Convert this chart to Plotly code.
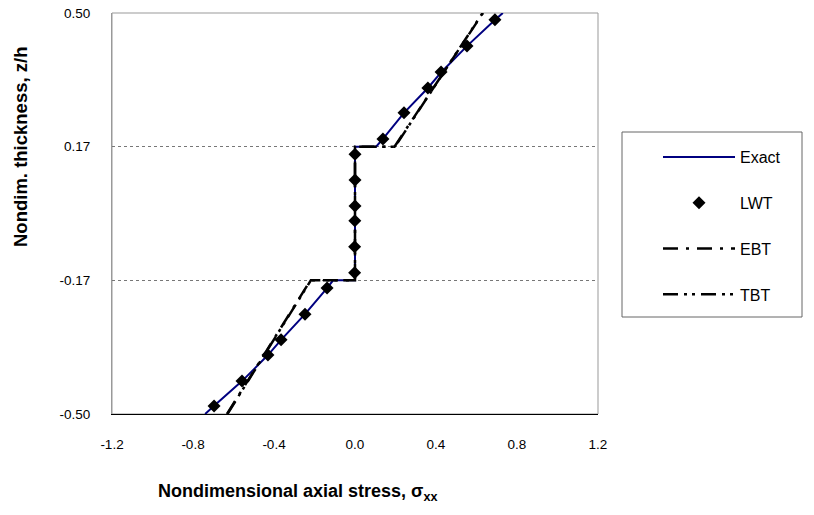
import plotly.graph_objects as go

# ---- data ----
exact_z = [-0.5, -0.48, -0.418, -0.353, -0.315, -0.251, -0.186, -0.1667, -0.1667,
           0.1667, 0.1667, 0.186, 0.251, 0.313, 0.353, 0.418, 0.483, 0.5]
exact_x = [-0.74, -0.697, -0.558, -0.43, -0.365, -0.247, -0.138, -0.108, 0.0,
           0.0, 0.104, 0.138, 0.242, 0.36, 0.427, 0.554, 0.692, 0.73]

lwt_z = [-0.480, -0.418, -0.353, -0.315, -0.251, -0.186,
         -0.148, -0.083, -0.018, 0.019, 0.0835, 0.148,
         0.186, 0.251, 0.313, 0.353, 0.418, 0.483]
lwt_x = [-0.696, -0.558, -0.430, -0.365, -0.247, -0.138,
         -0.002, -0.002, -0.001, 0.0, 0.0, 0.0,
         0.138, 0.242, 0.360, 0.425, 0.553, 0.691]

ebt_z = [-0.5, -0.1667, -0.1667, 0.1667, 0.1667, 0.5]
ebt_x = [-0.632, -0.220, 0.0, 0.0, 0.195, 0.632]

tbt_z = [-0.5, -0.1667, -0.1667, 0.1667, 0.1667, 0.5]
tbt_x = [-0.630, -0.218, 0.0, 0.0, 0.198, 0.630]

y_ticks = [-0.5, -1/6, 1/6, 0.5]
y_tick_text = ["-0.50", "-0.17", "0.17", "0.50"]
x_ticks = [-1.2, -0.8, -0.4, 0.0, 0.4, 0.8, 1.2]
x_tick_text = ["-1.2", "-0.8", "-0.4", "0.0", "0.4", "0.8", "1.2"]

FONT = "Liberation Sans, Arial, sans-serif"

# pixel geometry of the plot area
L, R, T, B = 112, 598, 13, 414
W, H = R - L, B - T
def px(xp):
    return (xp - L) / W
def py(yp):
    return (B - yp) / H

fig = go.Figure()
fig.add_trace(go.Scatter(x=exact_x, y=exact_z, mode="lines", name="Exact",
                         line=dict(color="#000080", width=2), legendgroup="a",
                         legendrank=1))
fig.add_trace(go.Scatter(x=ebt_x, y=ebt_z, mode="lines", name="EBT",
                         line=dict(color="black", width=2.5, dash="15px,8px,3px,8px"),
                         legendgroup="c", legendrank=3))
fig.add_trace(go.Scatter(x=tbt_x, y=tbt_z, mode="lines", name="TBT",
                         line=dict(color="black", width=2.5, dash="15px,6px,3px,5px,3px,6px"),
                         legendgroup="d", legendrank=4))
fig.add_trace(go.Scatter(x=lwt_x, y=lwt_z, mode="markers", name="LWT",
                         marker=dict(symbol="diamond", size=10, color="black"),
                         legendgroup="b", legendrank=2))

fig.update_layout(
    width=814, height=515,
    margin=dict(l=L, r=814 - R, t=T, b=515 - B),
    paper_bgcolor="white", plot_bgcolor="white",
    font=dict(family=FONT, size=13, color="black"),
    showlegend=True,
    legend=dict(x=px(658), y=py(140), xanchor="left", yanchor="top",
                borderwidth=0, bgcolor="rgba(0,0,0,0)",
                font=dict(family=FONT, size=16),
                tracegroupgap=22, itemwidth=72,
                traceorder="grouped"),
    xaxis=dict(range=[-1.2, 1.2], tickvals=x_ticks, ticktext=x_tick_text,
               showgrid=False, zeroline=False, showline=True, linecolor="black",
               linewidth=1, ticks="", ticklabelstandoff=18, automargin=False,
               tickfont=dict(family=FONT, size=13.5)),
    yaxis=dict(range=[-0.5, 0.5], tickvals=y_ticks, ticktext=y_tick_text,
               showgrid=True, gridcolor="#777", griddash="dot", gridwidth=1,
               zeroline=False, showline=True, linecolor="#999", linewidth=1,
               ticks="", ticklabelstandoff=18, automargin=False,
               tickfont=dict(family=FONT, size=13.5)),
    shapes=[
        dict(type="rect", xref="paper", yref="paper", x0=0, x1=1, y0=0, y1=1,
             line=dict(color="#999", width=1), layer="below"),
        dict(type="rect", xref="paper", yref="paper",
             x0=px(622), x1=px(802), y0=py(317), y1=py(132),
             line=dict(color="#666", width=1), fillcolor="rgba(0,0,0,0)"),
    ],
    annotations=[
        dict(text="<b>Nondim. thickness, z/h</b>", textangle=-90,
             xref="paper", yref="paper", x=px(21), y=py(147), xanchor="center",
             yanchor="middle", showarrow=False, font=dict(family=FONT, size=18.5)),
        dict(text="<b>Nondimensional axial stress, σ<sub>xx</sub></b>",
             xref="paper", yref="paper", x=px(297), y=py(492), xanchor="center",
             yanchor="middle", showarrow=False, font=dict(family=FONT, size=18)),
    ],
)

fig.write_html("out.html")
